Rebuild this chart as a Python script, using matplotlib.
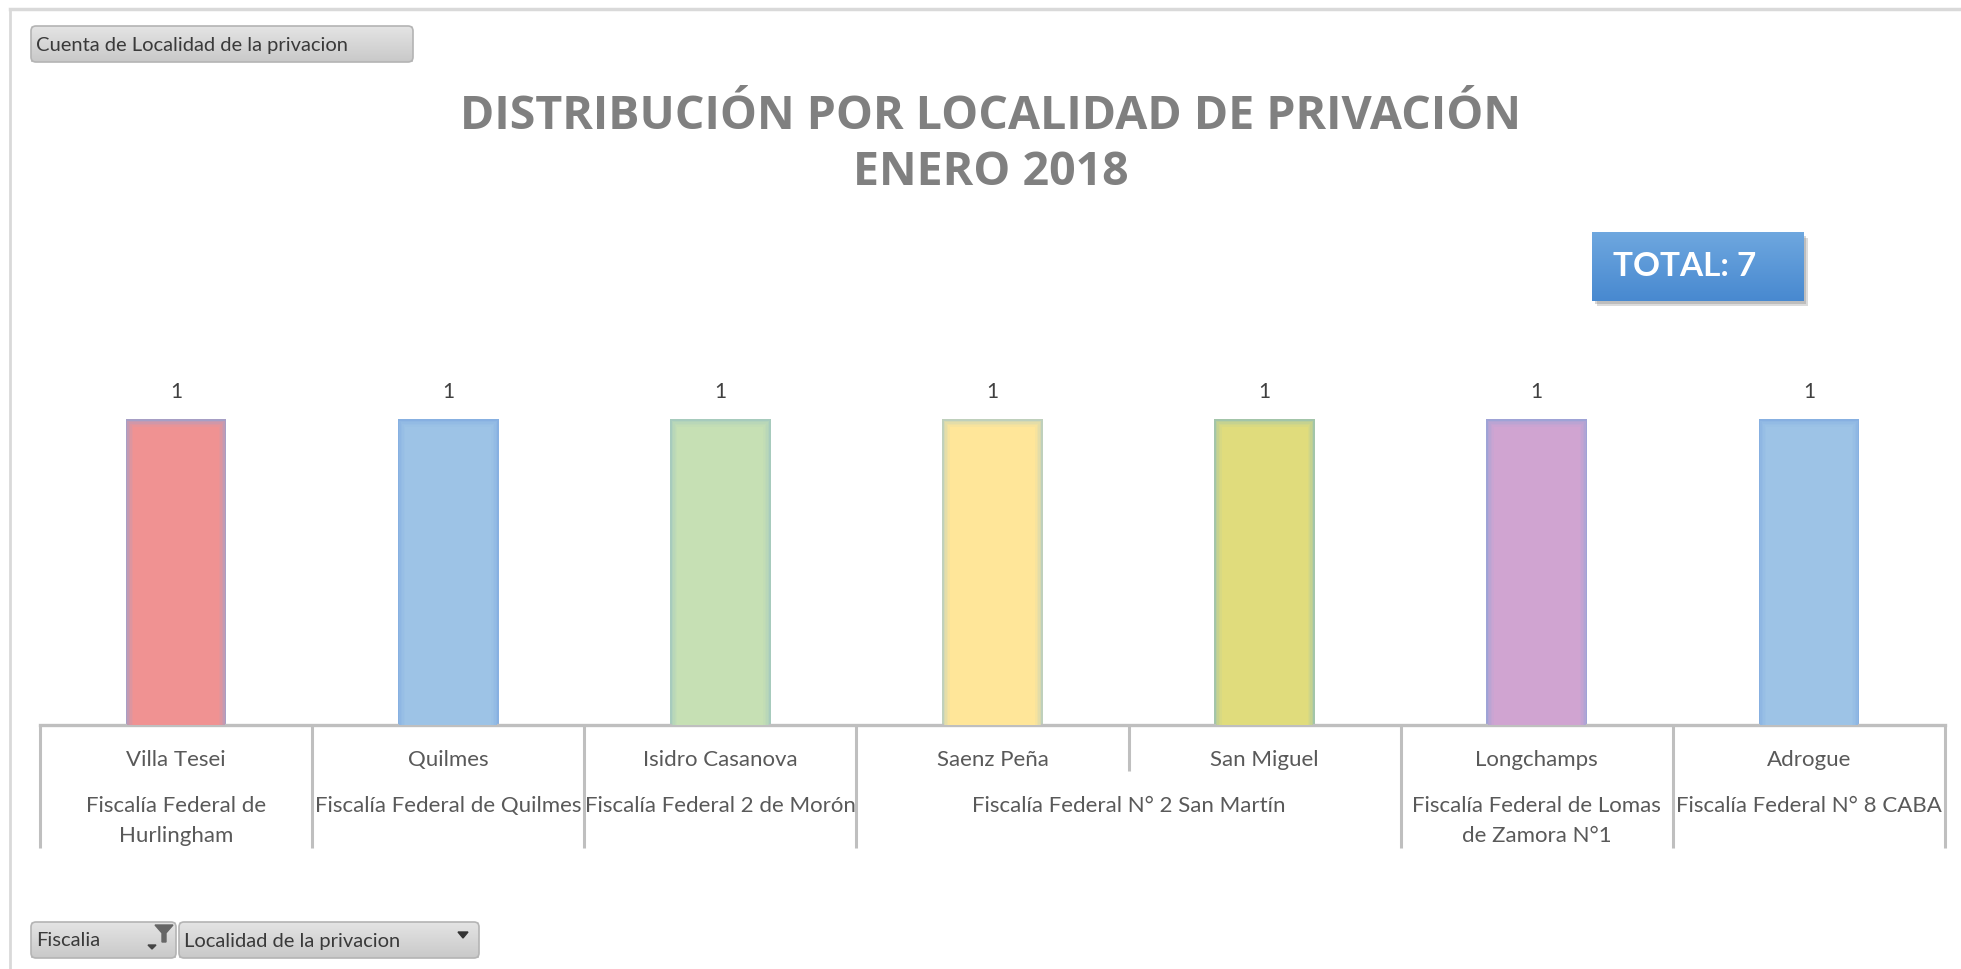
import numpy as np
import matplotlib
matplotlib.use("Agg")
import matplotlib.pyplot as plt
from matplotlib.patches import FancyBboxPatch, Rectangle
from matplotlib.transforms import blended_transform_factory
from matplotlib.colors import to_rgb

plt.rcParams['font.family'] = ['Lato', 'DejaVu Sans']

# datos
localidades = ["Villa Tesei", "Quilmes", "Isidro Casanova", "Saenz Peña",
               "San Miguel", "Longchamps", "Adrogue"]
cuenta = [1, 1, 1, 1, 1, 1, 1]
fiscalias = ["Fiscalía Federal de\nHurlingham", "Fiscalía Federal de Quilmes",
             "Fiscalía Federal 2 de Morón", "Fiscalía Federal N° 2 San Martín",
             "Fiscalía Federal de Lomas\nde Zamora N°1", "Fiscalía Federal N° 8 CABA"]
# cuantas localidades tiene cada fiscalia
fiscalia_n = [1, 1, 1, 2, 1, 1]
titulo = "DISTRIBUCIÓN POR LOCALIDAD DE PRIVACIÓN\nENERO 2018"
total = sum(cuenta)

colores = ["#F09292", "#9DC3E6", "#C6E0B4", "#FFE699", "#E0DC7C", "#D0A4D1", "#9DC3E6"]
bordes = ["#8FA3D6", "#7FAADF", "#9CC4C0", "#A9C9C8", "#8FBDB8", "#8FA3D8", "#7FAADF"]

W, H = 1961, 969
fig = plt.figure(figsize=(W / 100, H / 100), dpi=100)

# capa de fondo en pixeles
bg = fig.add_axes([0, 0, 1, 1])
bg.axis('off')

def mezcla(c1, c2, t):
    a, b = np.array(to_rgb(c1)), np.array(to_rgb(c2))
    return tuple(a * (1 - t) + b * t)

def degradado(x0, y0, x1, y1, arriba, abajo, z=2):
    n = 64
    grad = np.array([mezcla(arriba, abajo, t) for t in np.linspace(0, 1, n)])
    grad = grad.reshape(n, 1, 3)
    bg.imshow(grad, extent=(x0, x1, y1, y0), origin='upper', aspect='auto', zorder=z)

# bordes del panel
bg.plot([10, 10], [9, 969], color="#D9D9D9", lw=2, zorder=1)
bg.plot([10, W], [9, 9], color="#D9D9D9", lw=2.5, zorder=1)

# botones
def boton(x0, y0, x1, y1, texto):
    degradado(x0, y0, x1, y1, "#E4E4E4", "#C9C9C9", z=2)
    bg.add_patch(FancyBboxPatch((x0, y0), x1 - x0, y1 - y0,
                                boxstyle="round,pad=0,rounding_size=5",
                                fc="none", ec="#B4B4B4", lw=1.2, zorder=3))
    bg.text(x0 + 5, (y0 + y1) / 2 + 1, texto, ha='left', va='center',
            fontsize=14.5, color="#3A3A3A", zorder=4)

boton(31, 26, 413, 62, "Cuenta de Localidad de la privacion")
boton(31, 922, 176, 958, "Fiscalia")
boton(179, 922, 479, 958, "Localidad de la privacion")
# icono de filtro y flechas
bg.fill([155, 173, 166, 166, 162, 162], [925, 925, 933, 942, 942, 933],
        color="#666666", zorder=5)
bg.fill([148, 156, 152], [945, 945, 949], color="#444444", zorder=5)
bg.fill([458, 468, 463], [932, 932, 938], color="#333333", zorder=5)

# cuadro TOTAL
bg.add_patch(Rectangle((1597, 238), 211, 68, fc="#9A9A9A", alpha=0.35, ec="none", zorder=2))
bg.add_patch(Rectangle((1595, 236), 211, 68, fc="#7A7A7A", alpha=0.3, ec="none", zorder=2))
degradado(1592, 232, 1804, 301, "#6EA7DF", "#4889D0", z=3)
bg.text(1613, 267, f"TOTAL: {total}", ha='left', va='center', fontsize=24,
        fontweight='bold', color="white", zorder=4)

# titulo
lineas = titulo.split("\n")
bg.text(W / 2 + 10, 116, lineas[0], ha='center', va='center', fontsize=33.5,
        fontweight='bold', color="#808080", family=['Open Sans', 'DejaVu Sans'])
bg.text(W / 2 + 10, 172, lineas[1], ha='center', va='center', fontsize=33.5,
        fontweight='bold', color="#808080", family=['Open Sans', 'DejaVu Sans'])

bg.set_xlim(0, W)
bg.set_ylim(H, 0)

# grafico de barras
y_eje, y_top = 725, 300
ax = fig.add_axes([40 / W, (H - y_eje) / H, (1945 - 40) / W, (y_eje - y_top) / H])
ax.patch.set_alpha(0)
x = np.arange(len(localidades))
ax.set_xlim(-0.5, len(localidades) - 0.5)
ax.set_ylim(0, (y_eje - y_top) / 306)
ancho = 0.37
capas = 6
for i in range(len(localidades)):
    for k in range(capas):
        t = k / (capas - 1)
        c = mezcla(bordes[i], colores[i], 0.25 + 0.75 * t ** 0.6)
        ax.bar(x[i], cuenta[i] - 0.005 * k, width=ancho - 0.011 * k,
               color=c, edgecolor='none', zorder=2 + k)
    ax.text(x[i], cuenta[i] + 0.088, str(cuenta[i]), ha='center', va='center',
            fontsize=15, color="#404040")
for s in ['top', 'left', 'right']:
    ax.spines[s].set_visible(False)
ax.spines['bottom'].set_color("#BFBFBF")
ax.spines['bottom'].set_linewidth(2.4)
ax.set_xticks([])
ax.set_yticks([])

# etiquetas del eje (dos niveles)
tr = blended_transform_factory(ax.transData, bg.transData)
gris = "#595959"
for i, loc in enumerate(localidades):
    bg.text(x[i], 760, loc, transform=tr, ha='center', va='center',
            fontsize=16, color=gris)

inicio = -0.5
lineas_sep = [(-0.5, 848)]
for j, nombre in enumerate(fiscalias):
    fin = inicio + fiscalia_n[j]
    bg.text((inicio + fin) / 2, 796, nombre, transform=tr, ha='center', va='top',
            fontsize=16, color=gris, linespacing=1.65)
    # separadores internos cortos
    for m in range(1, fiscalia_n[j]):
        lineas_sep.append((inicio + m, 771))
    lineas_sep.append((fin, 848))
    inicio = fin
for xs, yb in lineas_sep:
    bg.plot([xs, xs], [y_eje, yb], transform=tr, color="#BFBFBF", lw=2.2,
            solid_capstyle='butt')

fig.savefig("out.png", dpi=100)
